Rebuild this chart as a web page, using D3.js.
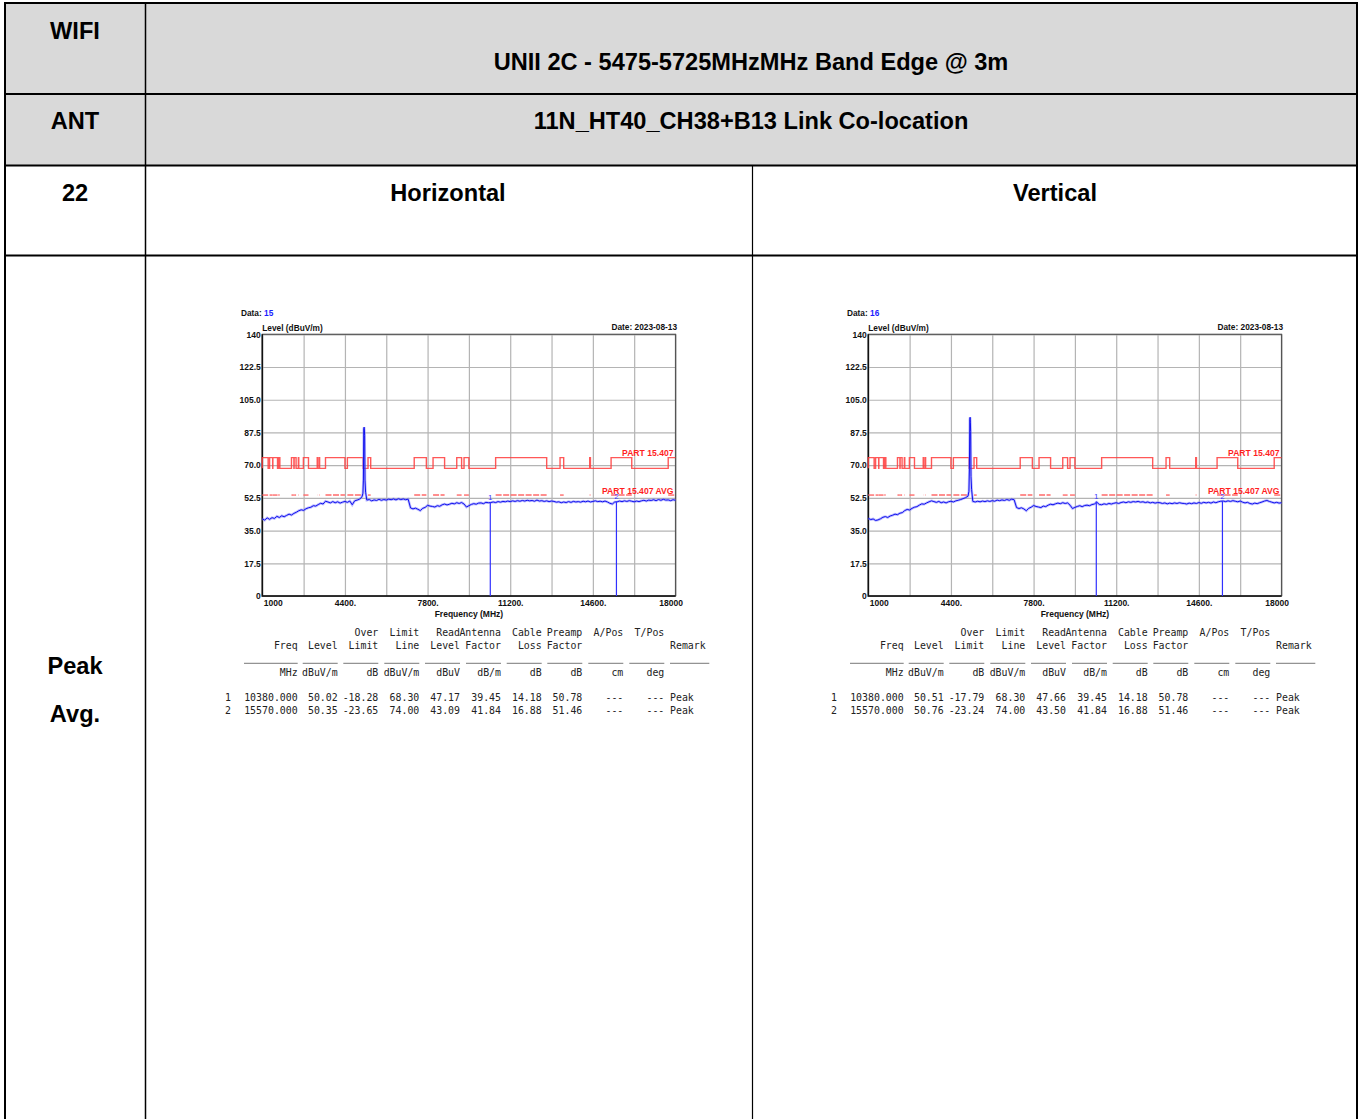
<!DOCTYPE html>
<html>
<head>
<meta charset="utf-8">
<script src="https://cdn.jsdelivr.net/npm/d3@7"></script>
<style>
  body { margin: 0; background: #fff; }
  svg { display: block; }
</style>
</head>
<body>
<svg id="page" width="1363" height="1119"></svg>
<script>
// ---- data ----
const traceFreq = d3.range(1000, 18001, 100); // sweep points, MHz

const levelH = [
  41.3, 40.6, 41.8, 41.0, 41.9, 41.5, 42.6, 42.0, 42.9, 42.4,
  43.1, 43.8, 43.3, 44.2, 44.8, 45.6, 46.1, 45.8, 46.7, 47.2,
  47.5, 48.3, 48.1, 48.9, 49.6, 49.2, 50.7, 50.3, 49.8, 50.5,
  49.9, 50.4, 49.7, 50.2, 50.6, 50.1, 50.8, 48.8, 50.9, 51.3,
  51.8, 53.0, 88.8, 51.3, 51.6, 50.9, 51.4, 51.1, 51.7, 51.2,
  51.6, 51.3, 51.8, 51.5, 51.9, 51.4, 52.0, 51.6, 51.9, 51.5,
  51.8, 47.1, 46.6, 47.0, 46.4, 45.7, 46.9, 47.4, 48.5, 48.1,
  47.9, 47.6, 48.3, 48.0, 48.8, 49.2, 48.7, 49.1, 49.6, 49.3,
  49.9, 49.5, 50.0, 49.2, 47.6, 48.3, 49.0, 49.4, 49.1, 49.7,
  49.8, 49.4, 50.1, 49.9, 50.0, 50.3, 50.0, 50.5, 50.2, 50.6,
  50.4, 50.8, 50.5, 50.9, 50.6, 51.0, 50.7, 51.1, 50.8, 51.2,
  50.9, 51.1, 50.7, 51.3, 50.8, 51.0, 50.6, 50.9, 50.5, 50.8,
  50.6, 50.2, 50.4, 49.9, 50.3, 50.0, 50.5, 50.1, 50.6, 50.3,
  50.5, 50.2, 50.7, 50.4, 50.8, 50.3, 50.6, 50.9, 50.5, 50.7,
  50.4, 50.8, 50.3, 49.6, 49.2, 50.3, 50.4, 50.8, 50.5, 50.9,
  50.6, 51.0, 50.7, 50.4, 50.8, 50.5, 50.9, 51.2, 50.8, 51.3,
  51.1, 51.5, 51.0, 51.6, 51.2, 51.7, 51.3, 51.4, 51.0, 51.5,
  51.2
];

const levelV = [
  41.5, 40.9, 41.2, 40.4, 40.7, 41.3, 42.1, 42.5, 42.0, 42.8,
  43.2, 43.8, 43.5, 44.3, 44.6, 45.7, 46.3, 46.0, 46.9, 47.5,
  47.8, 48.6, 49.3, 49.1, 49.8, 50.4, 50.9, 50.5, 50.1, 50.6,
  49.9, 50.3, 49.8, 50.4, 50.7, 50.3, 50.9, 51.2, 51.6, 52.1,
  52.6, 53.4, 93.0, 50.6, 50.3, 50.7, 50.4, 50.8, 50.5, 50.9,
  50.6, 51.0, 50.7, 51.3, 51.0, 51.4, 51.1, 51.6, 51.2, 51.8,
  51.5, 47.3, 46.8, 47.2, 46.6, 45.6, 46.9, 47.5, 48.4, 47.9,
  47.6, 47.3, 48.1, 47.8, 48.6, 49.1, 48.8, 49.3, 49.7, 49.4,
  49.9, 49.5, 49.8, 48.6, 46.8, 47.4, 47.9, 48.3, 47.8, 48.4,
  48.6, 48.3, 48.9, 49.2, 50.2, 49.0, 48.8, 49.3, 49.0, 49.5,
  49.2, 49.6, 49.9, 49.5, 50.0, 50.3, 49.9, 50.4, 50.1, 50.5,
  50.3, 50.6, 50.2, 50.4, 50.0, 50.3, 49.8, 50.1, 49.7, 50.0,
  49.9, 49.5, 49.8, 49.3, 49.7, 49.4, 49.8, 49.5, 49.9, 49.6,
  49.5, 49.2, 49.7, 49.4, 49.8, 49.5, 50.0, 49.6, 50.1, 49.8,
  50.1, 49.7, 50.3, 49.9, 50.4, 50.7, 50.8, 50.5, 50.9, 50.6,
  51.0, 50.7, 50.4, 50.8, 50.2, 49.8, 50.1, 49.5, 49.2, 49.7,
  49.4, 49.9, 50.3, 50.8, 51.1, 50.6, 50.2, 49.8, 50.1, 49.7,
  49.9
];

// extra points around the carrier at 5190 MHz
const spikeFreq = [5140, 5160, 5175, 5190, 5210, 5225, 5250];
const spikeH = [55.0, 62.0, 89.5, 90.3, 86.0, 62.0, 55.5];
const spikeV = [56.0, 68.0, 94.5, 95.6, 88.0, 64.0, 57.0];

// 15.205 restricted bands (limit 74 / avg 54 inside, 68.3 outside)
const restrictedBands = [
  [1000, 1240], [1300, 1427], [1435, 1626.5], [1645.5, 1646.5], [1660, 1710],
  [1718.8, 1722.2], [2200, 2300], [2310, 2390], [2483.5, 2500], [2690, 2900],
  [3260, 3267], [3332, 3339], [3345.8, 3358], [3600, 4400], [4500, 5150],
  [5350, 5460], [7250, 7750], [8025, 8500], [9000, 9200], [9300, 9500],
  [10600, 12700], [13250, 13400], [14470, 14500], [15350, 16200], [17700, 18000]
];
const limitInBand = 74;
const limitOutBand = 68.3;
const limitAvg = 54;

const yTicks = [0, 17.5, 35, 52.5, 70, 87.5, 105, 122.5, 140];
const xGrid = [1000, 2700, 4400, 6100, 7800, 9500, 11200, 12900, 14600, 16300, 18000];
const xLabelVals = [1000, 4400, 7800, 11200, 14600, 18000];
const xLabelText = ['1000', '4400.', '7800.', '11200.', '14600.', '18000'];

const markerFreq = [10380, 15570];
const markerH = [50.02, 50.35];
const markerV = [50.51, 50.76];

const headRow1 = ['', '', '', 'Over', 'Limit', 'Read', 'Antenna', 'Cable', 'Preamp', 'A/Pos', 'T/Pos', ''];
const headRow2 = ['', 'Freq', 'Level', 'Limit', 'Line', 'Level', 'Factor', 'Loss', 'Factor', '', '', 'Remark'];
const unitRow  = ['', 'MHz', 'dBuV/m', 'dB', 'dBuV/m', 'dBuV', 'dB/m', 'dB', 'dB', 'cm', 'deg', ''];
const rowsH = [
  ['1', '10380.000', '50.02', '-18.28', '68.30', '47.17', '39.45', '14.18', '50.78', '---', '---', 'Peak'],
  ['2', '15570.000', '50.35', '-23.65', '74.00', '43.09', '41.84', '16.88', '51.46', '---', '---', 'Peak']
];
const rowsV = [
  ['1', '10380.000', '50.51', '-17.79', '68.30', '47.66', '39.45', '14.18', '50.78', '---', '---', 'Peak'],
  ['2', '15570.000', '50.76', '-23.24', '74.00', '43.50', '41.84', '16.88', '51.46', '---', '---', 'Peak']
];

// ---- page frame ----
const svg = d3.select('#page');
const SANS = '"Liberation Sans", Arial, sans-serif';
const MONO = '"DejaVu Sans Mono", "Liberation Mono", monospace';

svg.append('rect').attr('x', 5).attr('y', 3).attr('width', 1352).attr('height', 162).attr('fill', '#d9d9d9');

const frame = svg.append('g').attr('stroke', '#000');
[[5, 3, 1357, 3], [5, 94, 1357, 94], [5, 165.5, 1357, 165.5], [5, 255.5, 1357, 255.5]]
  .forEach(l => frame.append('line').attr('x1', l[0]).attr('y1', l[1]).attr('x2', l[2]).attr('y2', l[3]).attr('stroke-width', 2));
[[5, 2], [145.5, 1.5], [1357, 2]]
  .forEach(c => frame.append('line').attr('x1', c[0]).attr('y1', 2).attr('x2', c[0]).attr('y2', 1119).attr('stroke-width', c[1]));
frame.append('line').attr('x1', 752.5).attr('y1', 165).attr('x2', 752.5).attr('y2', 1119).attr('stroke-width', 1.2);

const bigText = [
  ['WIFI', 75, 38.5], ['UNII 2C - 5475-5725MHzMHz Band Edge @ 3m', 751, 69.5],
  ['ANT', 75, 128.5], ['11N_HT40_CH38+B13 Link Co-location', 751, 128.5],
  ['22', 75, 200.5], ['Horizontal', 448, 200.5], ['Vertical', 1055, 200.5],
  ['Peak', 75, 673.5], ['Avg.', 75, 721.5]
];
svg.append('g').selectAll('text').data(bigText).join('text')
  .attr('x', d => d[1]).attr('y', d => d[2]).attr('text-anchor', 'middle')
  .attr('font-family', SANS).attr('font-weight', 'bold').attr('font-size', 23.6).attr('fill', '#000')
  .text(d => d[0]);

// ---- one spectrum panel ----
function drawPanel(ox, dataNo, levels, spikeLevels, markerLevels, tableRows) {
  const g = svg.append('g');
  const left = 262.3 + ox, right = 675.5 + ox, top = 334.3, bottom = 596;
  const x = d3.scaleLinear().domain([1000, 18000]).range([left, right]);
  const y = d3.scaleLinear().domain([0, 140]).range([bottom, top]);

  // grid
  g.append('g').attr('transform', `translate(0,${bottom})`)
    .call(d3.axisBottom(x).tickValues(xGrid).tickSize(-(bottom - top)).tickFormat(''))
    .call(a => a.select('.domain').remove())
    .selectAll('line').attr('stroke', '#b4b4b4').attr('stroke-width', 1.2);
  g.append('g').attr('transform', `translate(${left},0)`)
    .call(d3.axisLeft(y).tickValues(yTicks).tickSize(-(right - left)).tickFormat(''))
    .call(a => a.select('.domain').remove())
    .selectAll('line').attr('stroke', '#b4b4b4').attr('stroke-width', 1.2);

  // frame
  g.append('rect').attr('x', left).attr('y', top).attr('width', right - left).attr('height', bottom - top)
    .attr('fill', 'none').attr('stroke', '#555').attr('stroke-width', 1.2);
  g.append('path').attr('d', `M${left},${top}V${bottom}H${right}`)
    .attr('fill', 'none').attr('stroke', '#111').attr('stroke-width', 1.5);

  // tick labels
  g.append('g').attr('transform', `translate(${left},0)`)
    .call(d3.axisLeft(y).tickValues(yTicks).tickSize(0).tickPadding(1.5)
      .tickFormat(d => (d === 0 || d === 140) ? String(d) : d.toFixed(1)))
    .call(a => a.select('.domain').remove())
    .selectAll('text').attr('font-family', SANS).attr('font-weight', 'bold').attr('font-size', 8.5).attr('fill', '#111');
  const xl = g.append('g').attr('transform', `translate(0,${bottom})`)
    .call(d3.axisBottom(x).tickValues(xLabelVals).tickSize(0).tickPadding(3.5)
      .tickFormat((d, i) => xLabelText[i]))
    .call(a => a.select('.domain').remove());
  xl.selectAll('text').attr('font-family', SANS).attr('font-weight', 'bold').attr('font-size', 8.5).attr('fill', '#111')
    .attr('text-anchor', (d, i) => i === 0 ? 'start' : (i === xLabelVals.length - 1 ? 'end' : 'middle'))
    .attr('dx', (d, i) => i === 0 ? 1 : (i === xLabelVals.length - 1 ? 7 : 0));

  const lab = (t, tx, ty, anchor, size, col) => g.append('text').attr('x', tx).attr('y', ty)
    .attr('text-anchor', anchor).attr('font-family', SANS).attr('font-weight', 'bold')
    .attr('font-size', size).attr('fill', col).text(t);
  const dl = lab('Data: ', 241 + ox, 316, 'start', 8.3, '#111');
  dl.append('tspan').attr('fill', '#1a1aff').text(dataNo);
  lab('Level (dBuV/m)', left, 331, 'start', 8.3, '#111');
  lab('Date: 2023-08-13', right + 1.5, 330, 'end', 8.3, '#111');
  lab('Frequency (MHz)', (left + right) / 2, 617, 'middle', 8.5, '#111');

  // limit line (peak)
  const limPts = [[1000, limitOutBand]];
  restrictedBands.forEach(b => {
    limPts.push([b[0], limitOutBand], [b[0], limitInBand], [b[1], limitInBand]);
    if (b[1] < 18000) limPts.push([b[1], limitOutBand]);
  });
  if (restrictedBands[restrictedBands.length - 1][1] < 18000) limPts.push([18000, limitOutBand]);
  const line = d3.line().x(d => x(d[0])).y(d => y(d[1]));
  g.append('path').attr('d', line(limPts)).attr('fill', 'none')
    .attr('stroke', '#ff3b3b').attr('stroke-width', 1.4).attr('stroke-opacity', 0.85);

  // avg limit, only in restricted bands
  g.append('g').selectAll('line').data(restrictedBands).join('line')
    .attr('x1', d => x(d[0])).attr('x2', d => x(d[1]))
    .attr('y1', y(limitAvg)).attr('y2', y(limitAvg))
    .attr('stroke', '#ff6a6a').attr('stroke-width', 1.4).attr('stroke-dasharray', '6,1.5');

  lab('PART 15.407', right - 2, 456, 'end', 8.6, '#ff1f1f');
  lab('PART 15.407 AVG', right - 2, 493.5, 'end', 8.6, '#ff1f1f');

  // trace
  const pts = traceFreq.map((f, i) => [f, levels[i]])
    .concat(spikeFreq.map((f, i) => [f, spikeLevels[i]]))
    .sort((a, b) => a[0] - b[0]);
  g.append('path').attr('d', line(pts)).attr('fill', 'none')
    .attr('stroke', '#7a7aff').attr('stroke-width', 2.6).attr('stroke-opacity', 0.5);
  g.append('path').attr('d', line(pts)).attr('fill', 'none')
    .attr('stroke', '#1010ee').attr('stroke-width', 1);

  // markers
  markerFreq.forEach((f, i) => {
    g.append('line').attr('x1', x(f)).attr('x2', x(f)).attr('y1', y(markerLevels[i])).attr('y2', bottom)
      .attr('stroke', '#3030ff').attr('stroke-width', 1.2);
    lab(String(i + 1), x(f), y(markerLevels[i]) - 2.5, 'middle', 8, '#3b3bff').attr('font-weight', 'normal');
  });

  // result table
  const colRight = [0, 297.7, 337.7, 378.3, 419.3, 460, 501, 541.7, 582.3, 623.3, 664.3];
  const colLeft = [0, 244, 302.7, 343.3, 384.3, 425, 466, 506.7, 547.3, 588.3, 629.3, 670];
  const t = g.append('g').attr('font-family', MONO).attr('font-size', 9.9).attr('fill', '#222');
  const putRow = (row, ty) => row.forEach((s, i) => {
    if (!s) return;
    let tx, anchor;
    if (i === 0) { tx = 231; anchor = 'end'; }
    else if (i === 11) { tx = 670; anchor = 'start'; }
    else { tx = colRight[i]; anchor = 'end'; }
    t.append('text').attr('x', tx + ox).attr('y', ty).attr('text-anchor', anchor).text(s);
  });
  putRow(headRow1, 636.3);
  putRow(headRow2, 648.6);
  putRow(unitRow, 676);
  tableRows.forEach((r, k) => putRow(r, 701.3 + k * 12.4));
  colLeft.slice(1).forEach((cl, i) => {
    const cr = i === 10 ? 709.3 : colRight[i + 1];
    t.append('line').attr('x1', cl + ox).attr('x2', cr + ox).attr('y1', 663.3).attr('y2', 663.3)
      .attr('stroke', '#555').attr('stroke-width', 0.8);
  });
}

drawPanel(0, '15', levelH, spikeH, markerH, rowsH);
drawPanel(606, '16', levelV, spikeV, markerV, rowsV);
</script>
</body>
</html>
